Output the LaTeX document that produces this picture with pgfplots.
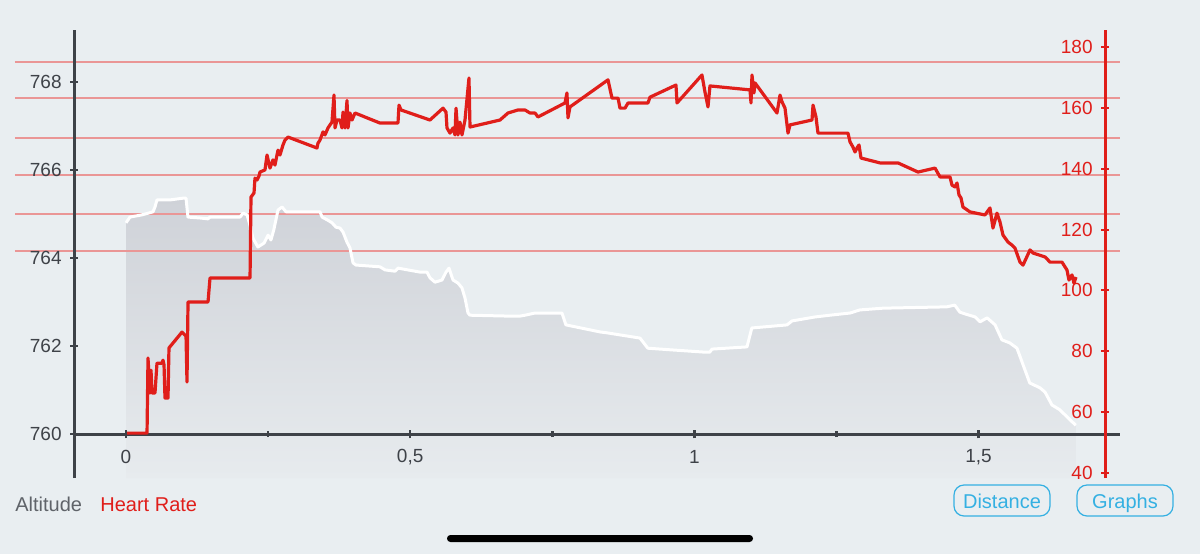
\documentclass[border=0pt]{standalone}
\usepackage{pgfplots}
\pgfplotsset{compat=1.18}
\usepackage{fontspec}
\setmainfont{Liberation Sans}
\definecolor{bg}{RGB}{233,238,241}
\definecolor{axgray}{RGB}{62,66,72}
\definecolor{leggray}{RGB}{95,99,105}
\definecolor{hrred}{RGB}{224,30,26}
\definecolor{gridred}{RGB}{234,150,150}
\definecolor{fillA}{RGB}{207,210,216}
\definecolor{fillB}{RGB}{231,235,238}
\definecolor{btnblue}{RGB}{52,176,226}
\begin{document}
\begin{tikzpicture}
\useasboundingbox (0,0) rectangle (600pt,277pt);
\fill[bg] (0,0) rectangle (600pt,277pt);
% ---------------- Altitude axis ----------------
\begin{axis}[at={(37pt,38pt)}, anchor=south west, scale only axis,
  width=515.5pt, height=224pt,
  xmin=-0.09149, xmax=1.72238, ymin=759.0, ymax=769.182,
  axis lines=none, clip=false]
\addplot[draw=none, shade, top color=fillA, bottom color=fillB] coordinates {
(0,759.0) (0,764.80) (0.007,764.93) (0.028,764.98) (0.0475,765.05) (0.051,765.16)
(0.0545,765.32) (0.0774,765.32) (0.1003,765.36) (0.1056,765.36) (0.109,764.93)
(0.130,764.91) (0.144,764.89) (0.148,764.93) (0.2006,764.93) (0.206,765.02)
(0.213,764.98) (0.218,764.75) (0.2234,764.45) (0.232,764.25) (0.243,764.34)
(0.250,764.52) (0.255,764.41) (0.260,764.64) (0.2674,765.09) (0.2745,765.16)
(0.2815,765.05) (0.3413,765.05) (0.345,764.93) (0.355,764.86) (0.3624,764.80)
(0.3695,764.70) (0.3765,764.68) (0.3818,764.59) (0.3888,764.36) (0.394,764.23)
(0.3994,763.89) (0.4046,763.84) (0.4469,763.80) (0.4557,763.73) (0.4733,763.70)
(0.4785,763.77) (0.5172,763.68) (0.5296,763.68) (0.5348,763.55) (0.5436,763.45)
(0.556,763.50) (0.563,763.68) (0.5683,763.77) (0.5753,763.50) (0.5841,763.43)
(0.5911,763.32) (0.5964,763.09) (0.6017,762.75) (0.6052,762.70) (0.672,762.68)
(0.693,762.68) (0.702,762.70) (0.7196,762.75) (0.767,762.75) (0.774,762.48)
(0.834,762.32) (0.846,762.30) (0.9043,762.18) (0.918,761.95) (0.962,761.91)
(1.0186,761.86) (1.027,761.86) (1.031,761.93) (1.0925,761.98) (1.101,762.41)
(1.163,762.48) (1.1717,762.57) (1.212,762.66) (1.2385,762.70) (1.274,762.75)
(1.291,762.82) (1.332,762.86) (1.444,762.89) (1.458,762.93) (1.467,762.77)
(1.476,762.73) (1.494,762.66) (1.5025,762.55) (1.515,762.64) (1.529,762.48)
(1.541,762.14) (1.555,762.07) (1.5675,761.95) (1.590,761.16) (1.608,761.05)
(1.617,760.95) (1.629,760.66) (1.643,760.55) (1.661,760.32) (1.671,760.20)
(1.671,759.0)};
% red guide lines
\pgfplotsinvokeforeach{768.455,767.636,766.727,765.886,765.0,764.159}{
  \draw[gridred, line width=0.55pt] (axis cs:-0.1953,#1) -- (axis cs:1.7488,#1);
}
\addplot[white, line width=1.5pt, line join=round] coordinates {
(0,764.80) (0.007,764.93) (0.028,764.98) (0.0475,765.05) (0.051,765.16)
(0.0545,765.32) (0.0774,765.32) (0.1003,765.36) (0.1056,765.36) (0.109,764.93)
(0.130,764.91) (0.144,764.89) (0.148,764.93) (0.2006,764.93) (0.206,765.02)
(0.213,764.98) (0.218,764.75) (0.2234,764.45) (0.232,764.25) (0.243,764.34)
(0.250,764.52) (0.255,764.41) (0.260,764.64) (0.2674,765.09) (0.2745,765.16)
(0.2815,765.05) (0.3413,765.05) (0.345,764.93) (0.355,764.86) (0.3624,764.80)
(0.3695,764.70) (0.3765,764.68) (0.3818,764.59) (0.3888,764.36) (0.394,764.23)
(0.3994,763.89) (0.4046,763.84) (0.4469,763.80) (0.4557,763.73) (0.4733,763.70)
(0.4785,763.77) (0.5172,763.68) (0.5296,763.68) (0.5348,763.55) (0.5436,763.45)
(0.556,763.50) (0.563,763.68) (0.5683,763.77) (0.5753,763.50) (0.5841,763.43)
(0.5911,763.32) (0.5964,763.09) (0.6017,762.75) (0.6052,762.70) (0.672,762.68)
(0.693,762.68) (0.702,762.70) (0.7196,762.75) (0.767,762.75) (0.774,762.48)
(0.834,762.32) (0.846,762.30) (0.9043,762.18) (0.918,761.95) (0.962,761.91)
(1.0186,761.86) (1.027,761.86) (1.031,761.93) (1.0925,761.98) (1.101,762.41)
(1.163,762.48) (1.1717,762.57) (1.212,762.66) (1.2385,762.70) (1.274,762.75)
(1.291,762.82) (1.332,762.86) (1.444,762.89) (1.458,762.93) (1.467,762.77)
(1.476,762.73) (1.494,762.66) (1.5025,762.55) (1.515,762.64) (1.529,762.48)
(1.541,762.14) (1.555,762.07) (1.5675,761.95) (1.590,761.16) (1.608,761.05)
(1.617,760.95) (1.629,760.66) (1.643,760.55) (1.661,760.32) (1.671,760.20)};
% left axis
\draw[axgray, line width=1.5pt] (rel axis cs:0,0) -- (rel axis cs:0,1);
\pgfplotsinvokeforeach{760,762,764,766,768}{
  \draw[axgray, line width=1pt] ([xshift=-1.8pt]axis cs:-0.09149,#1) -- ([xshift=1.8pt]axis cs:-0.09149,#1);
  \node[anchor=east, text=axgray, font=\fontsize{9.5}{11}\selectfont, inner sep=0pt] at ([xshift=-6pt]axis cs:-0.09149,#1) {#1};
}
% x axis
\draw[axgray, line width=1.5pt] (axis cs:-0.09149,760) -- (axis cs:1.7488,760);
\pgfplotsinvokeforeach{0,0.5,1,1.5}{
  \draw[axgray, line width=1.2pt] ([yshift=-2.2pt]axis cs:#1,760) -- ([yshift=2.2pt]axis cs:#1,760);
}
\pgfplotsinvokeforeach{0.25,0.75,1.25}{
  \draw[axgray, line width=1.2pt] ([yshift=-1.5pt]axis cs:#1,760) -- ([yshift=1.5pt]axis cs:#1,760);
}
\node[text=axgray, font=\fontsize{9.5}{11}\selectfont] at ([yshift=-11.5pt]axis cs:0,760) {0};
\node[text=axgray, font=\fontsize{9.5}{11}\selectfont] at ([yshift=-11.5pt]axis cs:0.5,760) {0,5};
\node[text=axgray, font=\fontsize{9.5}{11}\selectfont] at ([yshift=-11.5pt]axis cs:1,760) {1};
\node[text=axgray, font=\fontsize{9.5}{11}\selectfont] at ([yshift=-11.5pt]axis cs:1.5,760) {1,5};
\end{axis}
% ---------------- Heart rate axis ----------------
\begin{axis}[at={(37pt,38pt)}, anchor=south west, scale only axis,
  width=515.5pt, height=224pt,
  xmin=-0.09149, xmax=1.72238, ymin=38.357, ymax=185.58,
  axis lines=none, clip=false]
\addplot[hrred, line width=1.6pt, line join=round] coordinates {
(0.002,53.1) (0.037,53.1) (0.0387,77.8) (0.0422,66.3) (0.044,73.8) (0.0457,66.3)
(0.051,66.3) (0.0545,76.1) (0.0633,76.1) (0.0651,77.1) (0.0669,75.5) (0.0686,64.6)
(0.0739,64.6) (0.0756,81.1) (0.0985,86.3) (0.1056,85.0) (0.1073,69.9) (0.1091,96.2)
(0.1443,96.2) (0.1478,104.1) (0.2182,104.1) (0.2199,130.7) (0.2252,132.0)
(0.2269,136.9) (0.2305,136.3) (0.234,137.6) (0.2357,138.9) (0.2445,139.6)
(0.2481,144.5) (0.2533,140.2) (0.2586,142.9) (0.2621,141.2) (0.2674,146.1)
(0.2709,144.5) (0.2762,147.8) (0.2797,149.4) (0.285,150.4) (0.336,146.8)
(0.3378,148.4) (0.3413,149.4) (0.3466,152.1) (0.3501,151.1) (0.3554,153.4)
(0.3589,154.4) (0.3624,155.3) (0.3659,164.2) (0.3677,153.4) (0.3712,156.0)
(0.3765,156.0) (0.38,153.4) (0.3818,158.6) (0.3853,153.4) (0.3888,162.4)
(0.3906,153.4) (0.3941,158.3) (0.3976,156.0) (0.4029,158.3) (0.4469,155.0)
(0.4785,155.0) (0.4803,160.9) (0.4838,159.3) (0.5348,156.0) (0.5577,159.9)
(0.563,158.6) (0.5647,153.4) (0.57,151.7) (0.5753,153.4) (0.5788,151.1)
(0.5806,159.9) (0.5841,151.1) (0.5876,155.3) (0.5911,151.1) (0.5964,156.0)
(0.6034,169.8) (0.6052,153.7) (0.658,156.0) (0.672,158.3) (0.6896,159.3)
(0.702,159.3) (0.7107,158.3) (0.7196,158.3) (0.7248,157.0) (0.7723,161.6)
(0.7758,164.9) (0.7776,156.7) (0.7811,160.3) (0.848,169.2) (0.855,163.2)
(0.8656,163.2) (0.8691,159.9) (0.8779,159.9) (0.8832,161.6) (0.9183,161.6)
(0.9219,163.5) (0.9676,167.5) (0.9694,161.6) (1.0133,170.8) (1.0186,165.2)
(1.0239,160.3) (1.0274,167.2) (1.0978,165.9) (1.0996,161.6) (1.1013,170.8)
(1.1048,164.9) (1.1066,168.2) (1.1453,158.3) (1.1506,164.2) (1.1541,162.0)
(1.1594,159.9) (1.1647,151.7) (1.1682,154.4) (1.2069,156.0) (1.2087,160.9)
(1.2139,157.0) (1.2174,151.7) (1.2702,151.7) (1.2738,148.8) (1.279,147.1)
(1.2825,145.5) (1.286,146.8) (1.2896,147.8) (1.2931,143.5) (1.3265,141.9)
(1.3582,141.9) (1.3934,138.9) (1.4233,140.2) (1.4321,137.3) (1.4497,137.3)
(1.4532,134.6) (1.4585,134.0) (1.462,135.3) (1.4655,131.4) (1.469,130.4)
(1.4725,127.4) (1.4849,125.8) (1.5112,124.8) (1.52,127.1) (1.5253,120.5)
(1.5323,125.4) (1.5376,122.5) (1.5429,118.2) (1.5517,115.9) (1.5587,114.9)
(1.564,113.9) (1.5728,109.3) (1.5781,108.3) (1.5904,113.3) (1.5957,112.3)
(1.6168,111.0) (1.6221,110.0) (1.6256,109.3) (1.6467,109.3) (1.6555,106.7)
(1.659,103.4) (1.6643,105.1) (1.6678,102.4) (1.6713,104.4)};
% right axis
\draw[hrred, line width=1.5pt] (rel axis cs:1,0) -- (rel axis cs:1,1);
\pgfplotsinvokeforeach{40,60,80,100,120,140,160,180}{
  \draw[hrred, line width=1pt] ([xshift=-1.8pt]axis cs:1.72238,#1) -- ([xshift=1.8pt]axis cs:1.72238,#1);
  \node[anchor=east, text=hrred, font=\fontsize{9.5}{11}\selectfont, inner sep=0pt] at ([xshift=-6pt]axis cs:1.72238,#1) {#1};
}
\end{axis}
% ---------------- legend, buttons, home bar ----------------
\node[anchor=base west, inner sep=0pt, text=leggray, font=\fontsize{10}{12}\selectfont] at (7.5pt,21.5pt) {Altitude};
\node[anchor=base west, inner sep=0pt, text=hrred, font=\fontsize{10}{12}\selectfont] at (50pt,21.5pt) {Heart Rate};
\draw[btnblue, line width=0.6pt, rounded corners=5pt] (477pt,19pt) rectangle (525pt,34.5pt);
\node[anchor=base, text=btnblue, font=\fontsize{10}{12}\selectfont, inner sep=0pt] at (501pt,23pt) {Distance};
\draw[btnblue, line width=0.6pt, rounded corners=5pt] (538.5pt,19pt) rectangle (586.5pt,34.5pt);
\node[anchor=base, text=btnblue, font=\fontsize{10}{12}\selectfont, inner sep=0pt] at (562.5pt,23pt) {Graphs};
\fill[black, rounded corners=1.7pt] (223.5pt,6pt) rectangle (376.5pt,9.5pt);
\end{tikzpicture}
\end{document}
